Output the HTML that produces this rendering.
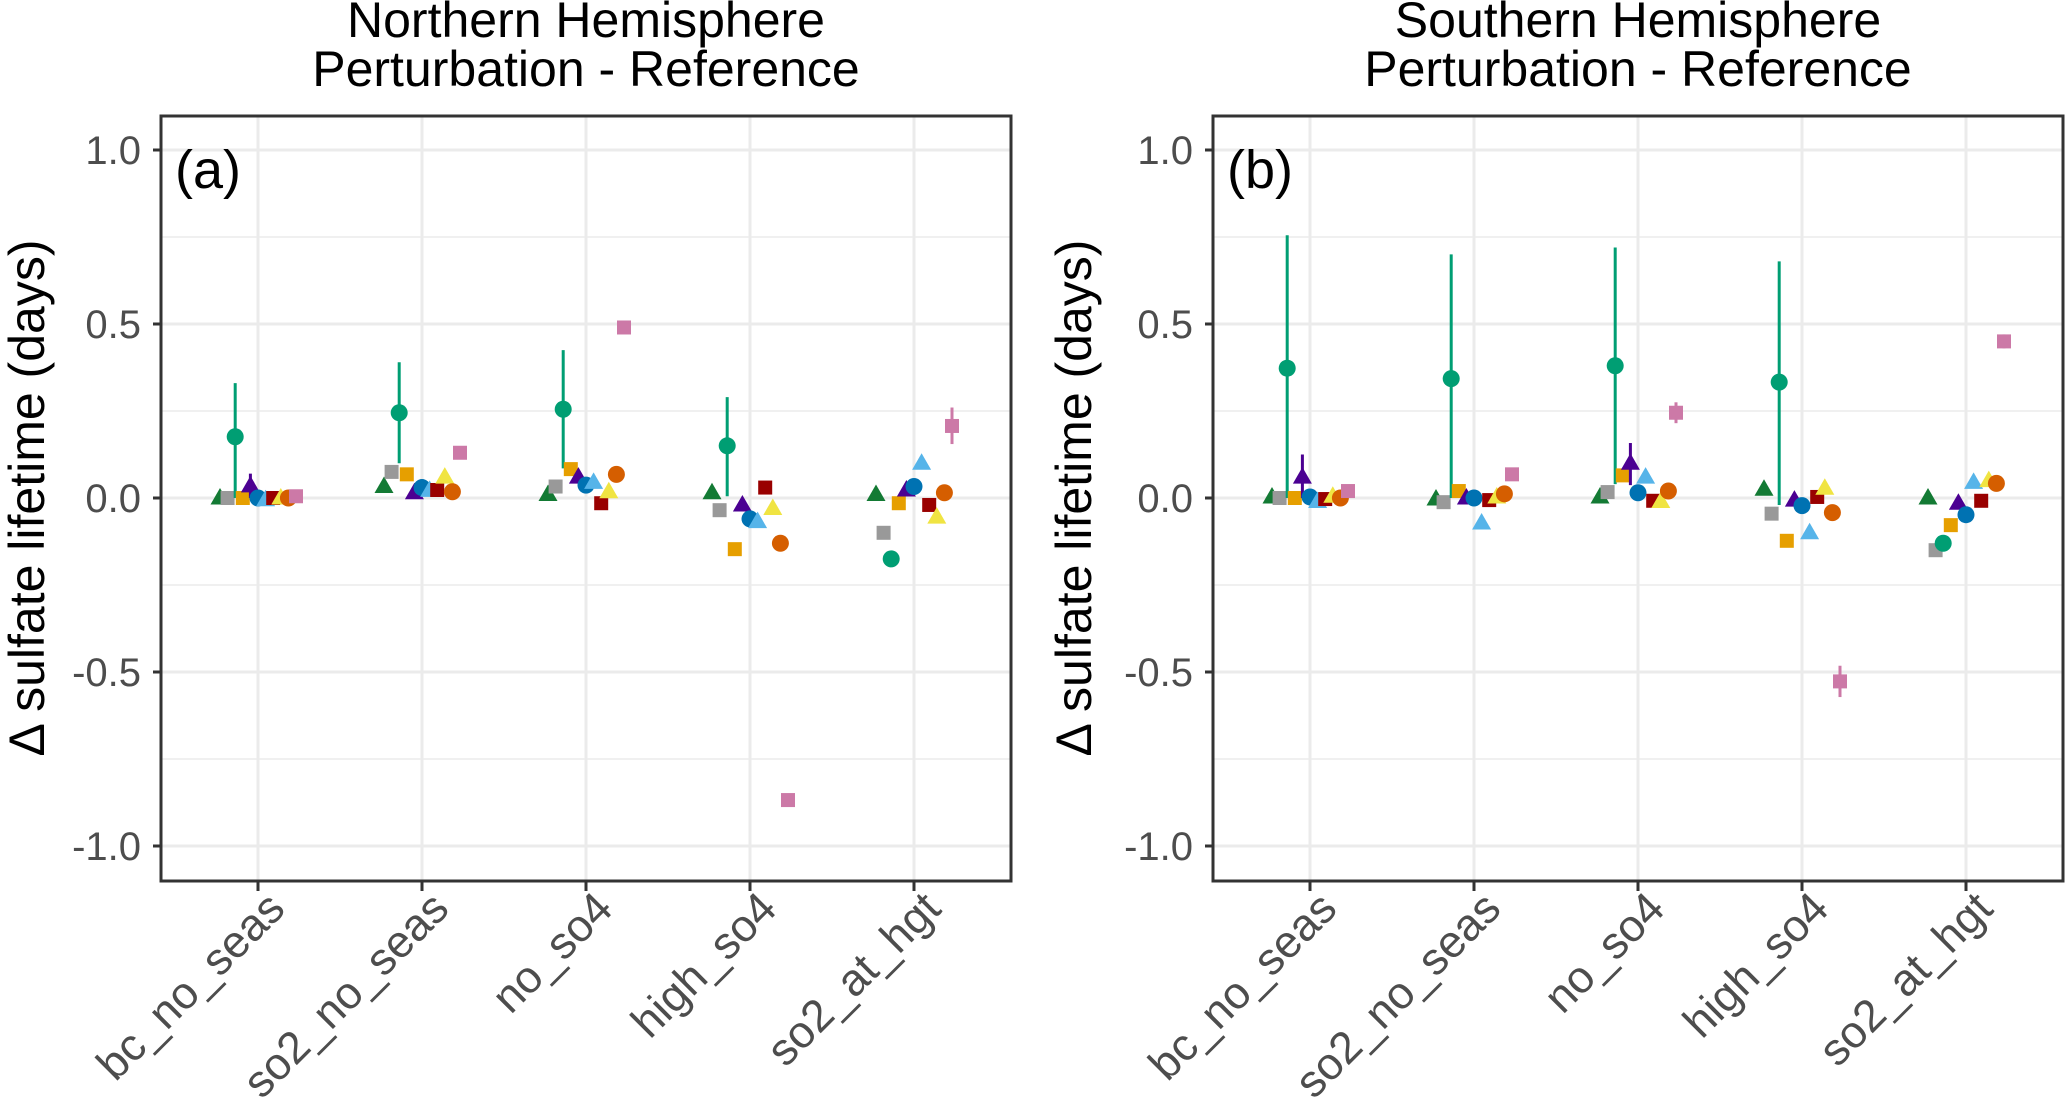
<!DOCTYPE html>
<html><head><meta charset="utf-8">
<style>
html,body{margin:0;padding:0;background:#fff;}
svg{display:block;font-family:"Liberation Sans",Arial,sans-serif;}
</style></head>
<body>
<svg id="chart" width="2067" height="1103" viewBox="0 0 2067 1103" xmlns="http://www.w3.org/2000/svg"></svg>
<script>
const categories = ["bc_no_seas","so2_no_seas","no_so4","high_so4","so2_at_hgt"];
const yTicks = [1.0,0.5,0.0,-0.5,-1.0];
const yTickLabels = ["1.0","0.5","0.0","-0.5","-1.0"];
const seriesNames = ["green-tri","gray-sq","teal-circle","orange-sq","purple-tri","blue-circle","lightblue-tri","darkred-sq","yellow-tri","vermillion-circle","pink-sq"];
const seriesColors = ["#137a34","#999999","#009E73","#E69F00","#4B0092","#0072B2","#56B4E9","#990000","#F0E442","#D55E00","#CC79A7"];
const seriesShapes = ["tri","sq","circ","sq","tri","circ","tri","sq","tri","circ","sq"];
const nhValues = [
 [0.00,0.033,0.01,0.015,0.01],
 [0.00,0.075,0.033,-0.035,-0.10],
 [0.176,0.245,0.255,0.15,-0.175],
 [0.00,0.068,0.083,-0.147,-0.015],
 [0.035,0.015,0.06,-0.02,0.023],
 [0.00,0.03,0.037,-0.06,0.033],
 [-0.005,0.022,0.045,-0.068,0.10],
 [0.00,0.023,-0.015,0.03,-0.02],
 [0.00,0.06,0.018,-0.03,-0.055],
 [0.00,0.018,0.068,-0.13,0.015],
 [0.005,0.13,0.49,-0.868,0.207]
];
const nhErrLow = {
 "teal-circle":[0.0,0.10,0.085,0.005,null],
 "purple-tri":[0.0,null,null,null,null],
 "pink-sq":[null,null,null,null,0.155]
};
const nhErrHigh = {
 "teal-circle":[0.33,0.39,0.425,0.29,null],
 "purple-tri":[0.07,null,null,null,null],
 "pink-sq":[null,null,null,null,0.26]
};
const shValues = [
 [0.003,-0.003,0.003,0.025,0.00],
 [0.00,-0.012,0.017,-0.045,-0.15],
 [0.373,0.343,0.38,0.333,-0.13],
 [0.00,0.02,0.065,-0.123,-0.078],
 [0.06,0.00,0.10,-0.006,-0.015],
 [0.003,0.00,0.015,-0.022,-0.048],
 [-0.01,-0.072,0.06,-0.10,0.045],
 [-0.003,-0.006,-0.008,0.003,-0.008],
 [0.005,0.003,-0.01,0.028,0.05],
 [0.00,0.012,0.02,-0.042,0.042],
 [0.02,0.068,0.245,-0.527,0.45]
];
const shErrLow = {
 "teal-circle":[0.0,0.0,0.04,-0.02,null],
 "purple-tri":[0.0,null,0.037,null,null],
 "pink-sq":[null,null,0.215,-0.572,0.43]
};
const shErrHigh = {
 "teal-circle":[0.755,0.70,0.72,0.68,null],
 "purple-tri":[0.125,null,0.158,null,null],
 "pink-sq":[null,null,0.275,-0.482,0.47]
};

const NS="http://www.w3.org/2000/svg";
const svg=document.getElementById('chart');
function el(tag,attrs,parent){const e=document.createElementNS(NS,tag);for(const k in attrs)e.setAttribute(k,attrs[k]);(parent||svg).appendChild(e);return e;}

const TOP=116,BOT=881,W=850;
function yScale(v){return 498-348*v;}

function drawPanel(left,title,letter,values,errLow,errHigh,pname,ytitleX){
  const g=el('g',{});
  
  
  const xScale=i=>left+97+164*i;
  [0.75,0.25,-0.25,-0.75].forEach(v=>{
    const l=el('line',{x1:left,x2:left+W,y1:yScale(v),y2:yScale(v),stroke:'#ebebeb','stroke-width':1.5},g);
    
    
  });
  yTicks.forEach((v,i)=>{
    const l=el('line',{x1:left,x2:left+W,y1:yScale(v),y2:yScale(v),stroke:'#ebebeb','stroke-width':3},g);
    
    
    const t=el('line',{x1:left-8,x2:left,y1:yScale(v),y2:yScale(v),stroke:'#333','stroke-width':3},g);
    
    
    const tx=el('text',{x:left-20,y:yScale(v)+14,'text-anchor':'end','font-size':40,fill:'#4d4d4d'},g);
    tx.textContent=yTickLabels[i];
    
    
  });
  categories.forEach((c,i)=>{
    const x=xScale(i);
    const l=el('line',{x1:x,x2:x,y1:TOP,y2:BOT,stroke:'#ebebeb','stroke-width':3},g);
    
    
    const t=el('line',{x1:x,x2:x,y1:BOT,y2:BOT+10,stroke:'#333','stroke-width':3},g);
    
    
    const ax=x+29, ay=BOT+30;
    const tx=el('text',{x:ax,y:ay,'text-anchor':'end','font-size':45,fill:'#4d4d4d',transform:`rotate(-45 ${ax} ${ay})`},g);
    tx.textContent=c;
    
    
  });
  const step=7.6;
  values.forEach((arr,s)=>{
    const name=seriesNames[s],col=seriesColors[s],shape=seriesShapes[s];
    const sg=el('g',{},g);
    
    
    arr.forEach((v,i)=>{
      const x=xScale(i)+(s-5)*step, y=yScale(v);
      if(errLow[name]&&errLow[name][i]!=null){
        const e=el('line',{x1:x,x2:x,y1:yScale(errHigh[name][i]),y2:yScale(errLow[name][i]),stroke:col,'stroke-width':3},sg);
        
        
      }
      let m;
      if(shape==='circ') m=el('circle',{cx:x,cy:y,r:8.5,fill:col},sg);
      else if(shape==='sq') m=el('rect',{x:x-7,y:y-7,width:14,height:14,fill:col},sg);
      else m=el('polygon',{points:`${x},${y-10} ${x+9.5},${y+6.5} ${x-9.5},${y+6.5}`,fill:col},sg);
      
      
    });
  });
  const fr=el('rect',{x:left,y:TOP,width:W,height:BOT-TOP,fill:'none',stroke:'#333','stroke-width':3},g);
  
  
  const lt=el('text',{x:left+14,y:188,'font-size':54,fill:'#000'},g);
  lt.textContent=letter;
  
  
  const cx=left+W/2;
  const t1=el('text',{x:cx,y:37,'text-anchor':'middle','font-size':50,fill:'#000'},g);
  t1.textContent=title;
  
  
  const t2=el('text',{x:cx,y:86,'text-anchor':'middle','font-size':50,fill:'#000'},g);
  t2.textContent='Perturbation - Reference';
  
  
  const yt=el('text',{x:ytitleX,y:498,'text-anchor':'middle','font-size':50,fill:'#000',transform:`rotate(-90 ${ytitleX} 498)`},g);
  yt.textContent='Δ sulfate lifetime (days)';
  
  
}
drawPanel(161,'Northern Hemisphere','(a)',nhValues,nhErrLow,nhErrHigh,'nh',44);
drawPanel(1213,'Southern Hemisphere','(b)',shValues,shErrLow,shErrHigh,'sh',1091);
</script>
</body></html>
